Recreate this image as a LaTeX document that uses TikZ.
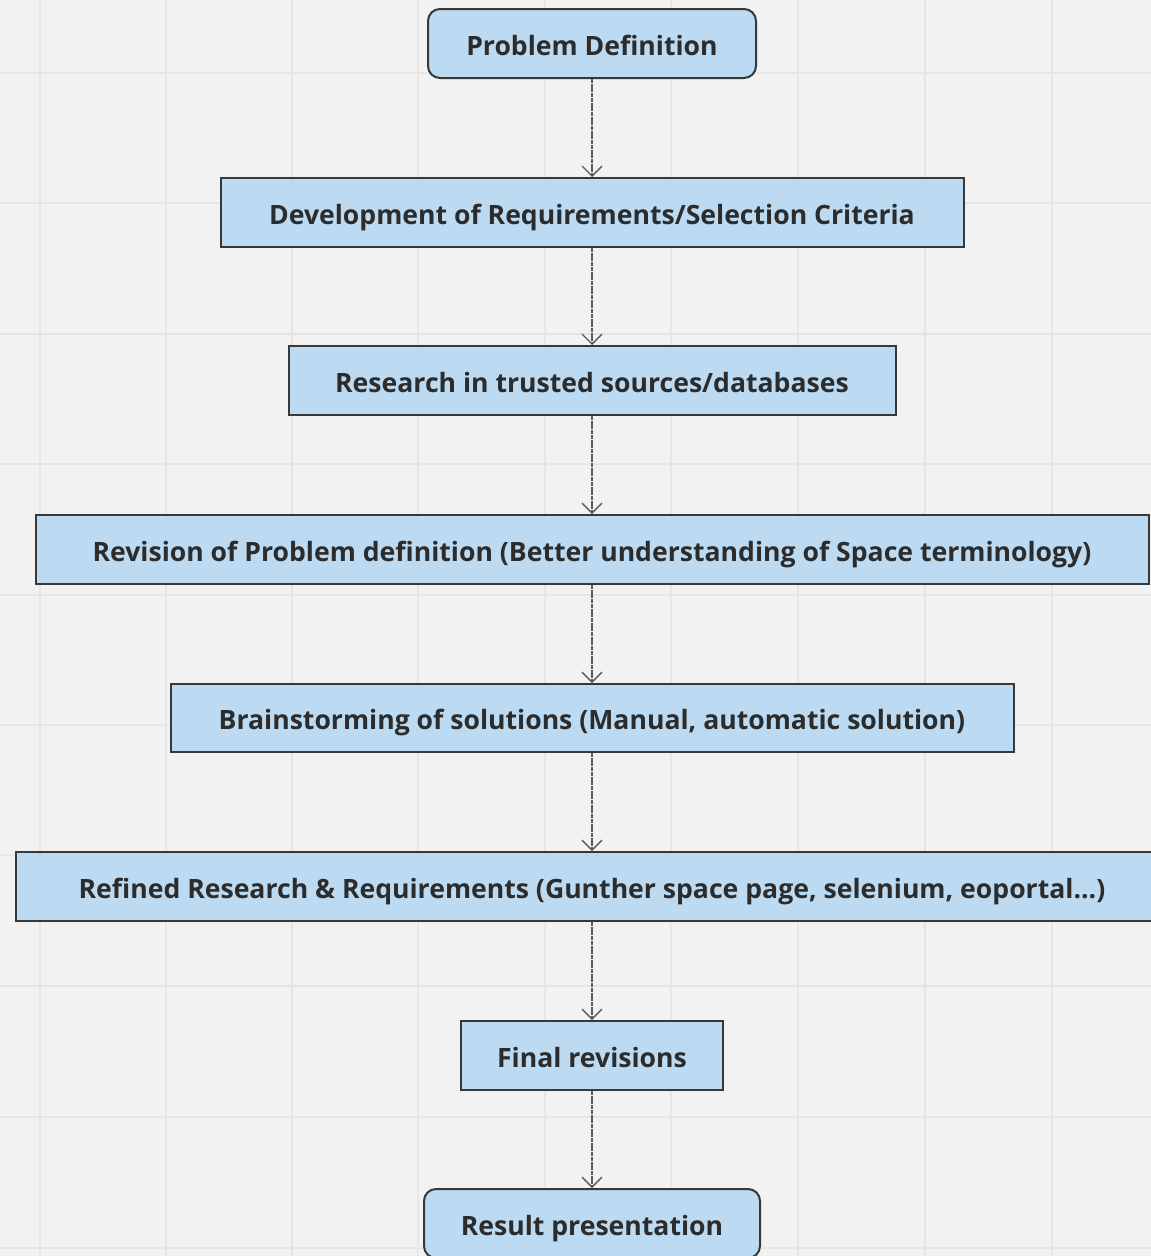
\documentclass[tikz,border=0pt]{standalone}
\usepackage{fontspec}
\setmainfont{Open Sans}
\usetikzlibrary{arrows.meta}
\definecolor{bgcol}{HTML}{F2F2F2}
\definecolor{gridcol}{HTML}{E6E6E6}
\definecolor{gridmajor}{HTML}{E3E3E3}
\definecolor{boxfill}{HTML}{B7D8F1}
\definecolor{boxline}{HTML}{383838}
\definecolor{txtcol}{HTML}{2C2C2C}
\definecolor{linecol}{HTML}{5A5A5A}
\tikzset{
  stepbox/.style={draw=boxline, line width=2pt, fill=boxfill, fill opacity=0.9,
    text opacity=1, text=txtcol, inner sep=0pt, minimum height=69pt,
    font=\fontsize{26.6}{30}\selectfont\bfseries, text height=28pt, text depth=5pt},
  endbox/.style={stepbox, rounded corners=12pt},
  conn/.style={draw=linecol, line width=1.3pt, dash pattern=on 4pt off 0.7pt,
    -{Straight Barb[length=10pt,width=20pt,line width=1.3pt]}},
}
\begin{document}
\begin{tikzpicture}[x=1pt,y=-1pt]
  \useasboundingbox (0,0) rectangle (1151,1256);
  \clip (0,0) rectangle (1151,1256);
  % canvas and grid
  \fill[bgcol] (0,0) rectangle (1151,1256);
  \foreach \gx in {40,166,418,545,671,798,1052}
    \draw[gridcol, line width=2pt] (\gx,0) -- (\gx,1256);
  \foreach \gx in {292,925}
    \draw[gridmajor, line width=2.6pt] (\gx,0) -- (\gx,1256);
  \foreach \gy in {73,203,464,595,725,855,1117,1248}
    \draw[gridcol, line width=2pt] (0,\gy) -- (1151,\gy);
  \foreach \gy in {334,986}
    \draw[gridmajor, line width=2.6pt] (0,\gy) -- (1151,\gy);

  % process steps
  \node[endbox, minimum width=328pt] (pd) at (592,43.5) {Problem Definition};
  \node[stepbox, minimum width=743pt] (dev) at (592,212.5) {Development of Requirements/Selection Criteria};
  \node[stepbox, minimum width=607pt] (res) at (592,380.5) {Research in trusted sources/databases};
  \node[stepbox, minimum width=1113pt] (rev) at (592,549.5) {Revision of Problem definition (Better understanding of Space terminology)};
  \node[stepbox, minimum width=843pt, minimum height=68pt] (brain) at (592,718) {Brainstorming of solutions (Manual, automatic solution)};
  \node[stepbox, minimum width=1152pt] (ref) at (592,886.5) {Refined Research \& Requirements (Gunther space page, selenium, eoportal...)};
  \node[stepbox, minimum width=262pt] (fin) at (592,1055.5) {Final revisions};
  \node[endbox, minimum width=336pt] (out) at (592,1223.5) {Result presentation};

  % flow
  \draw[conn] (pd.south) -- (dev.north);
  \draw[conn] (dev.south) -- (res.north);
  \draw[conn] (res.south) -- (rev.north);
  \draw[conn] (rev.south) -- (brain.north);
  \draw[conn] (brain.south) -- (ref.north);
  \draw[conn] (ref.south) -- (fin.north);
  \draw[conn] (fin.south) -- (out.north);
\end{tikzpicture}
\end{document}
